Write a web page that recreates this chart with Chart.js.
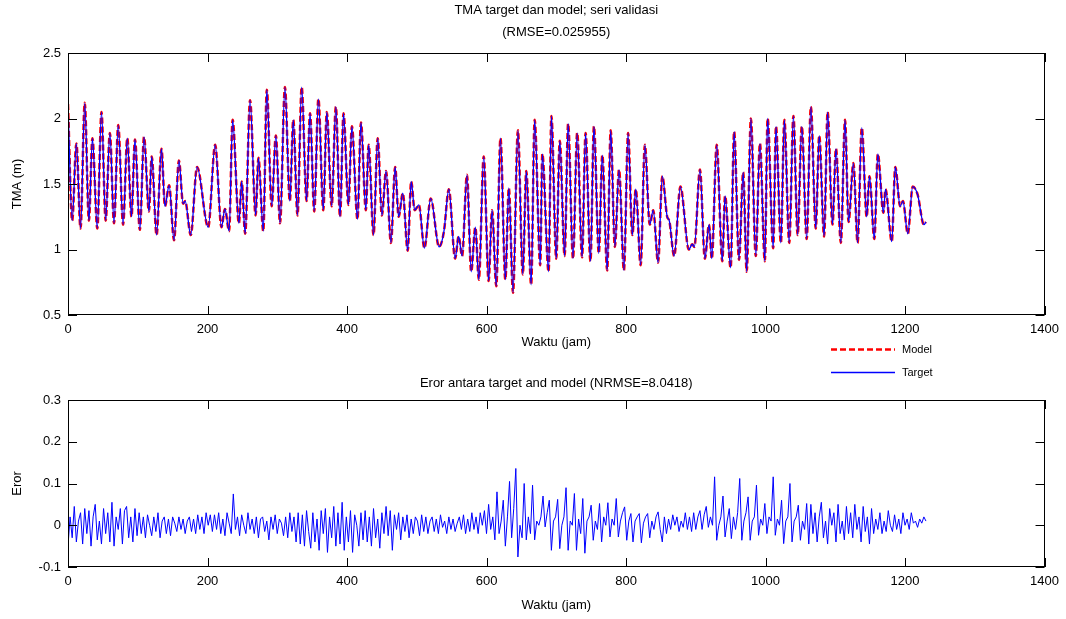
<!DOCTYPE html>
<html>
<head>
<meta charset="utf-8">
<script src="https://cdn.jsdelivr.net/npm/chart.js@4.4.1/dist/chart.umd.min.js"></script>
<style>
  html, body { margin: 0; padding: 0; background: #fff; }
  #wrap { position: relative; width: 1066px; height: 619px; overflow: hidden; }
  canvas { position: absolute; left: 0; }
  #tma-chart { top: 0; }
  #err-chart { top: 370px; }
</style>
</head>
<body>
<div id="wrap">
  <canvas id="tma-chart" width="1066" height="385"></canvas>
  <canvas id="err-chart" width="1066" height="249"></canvas>
</div>
<script>
// water level (TMA), turning points
const tmaHours = [
  0, 6, 12, 18, 24, 30, 35, 42, 48, 54, 60, 66, 72, 79, 85, 91, 96, 103, 109, 116,
  120, 127, 134, 139, 145, 152, 159, 165, 168, 176, 185, 201, 211, 220, 225, 231, 236, 245, 249, 254,
  261, 269, 273, 280, 285, 292, 298, 304, 311, 318, 323, 329, 335, 342, 347, 353, 359, 366, 371, 378,
  384, 390, 395, 402, 407, 415, 420, 427, 431, 438, 444, 450, 456, 463, 469, 474, 480, 487, 492, 497,
  503, 511, 520, 532, 539, 546, 555, 560, 565, 572, 578, 584, 589, 596, 603, 608, 614, 620, 627, 632,
  638, 645, 652, 657, 664, 669, 677, 680, 689, 693, 700, 705, 712, 717, 724, 730, 737, 742, 749, 754,
  761, 766, 773, 778, 784, 790, 797, 803, 809, 814, 821, 827, 834, 839, 846, 852, 859, 862, 869, 878,
  890, 895, 898, 906, 913, 919, 923, 930, 938, 942, 950, 955, 962, 968, 973, 979, 986, 992, 999, 1003,
  1011, 1015, 1022, 1027, 1034, 1040, 1046, 1052, 1059, 1065, 1072, 1077, 1084, 1089, 1096, 1101, 1108, 1114, 1119, 1126,
  1132, 1138, 1145, 1149, 1156, 1161, 1169, 1172, 1181, 1186, 1193, 1197, 1204, 1211, 1218, 1227, 1230
];
const tmaTarget = [
  2.11, 1.22, 1.81, 1.16, 2.12, 1.22, 1.85, 1.16, 2.05, 1.22, 1.89, 1.20, 1.95, 1.19, 1.85, 1.25, 1.84, 1.15, 1.86, 1.29,
  1.71, 1.11, 1.77, 1.33, 1.49, 1.07, 1.68, 1.35, 1.37, 1.11, 1.63, 1.17, 1.80, 1.17, 1.31, 1.14, 1.99, 1.20, 1.52, 1.12,
  2.14, 1.26, 1.70, 1.14, 2.22, 1.33, 1.87, 1.20, 2.24, 1.37, 1.99, 1.26, 2.24, 1.37, 2.04, 1.29, 2.15, 1.30, 2.05, 1.33,
  2.09, 1.25, 2.04, 1.34, 1.94, 1.23, 1.97, 1.30, 1.80, 1.11, 1.85, 1.26, 1.60, 1.05, 1.63, 1.25, 1.43, 0.99, 1.52, 1.30,
  1.34, 1.01, 1.39, 1.02, 1.14, 1.46, 0.93, 1.10, 0.95, 1.57, 0.83, 1.17, 0.77, 1.71, 0.76, 1.30, 0.72, 1.85, 0.77, 1.47,
  0.67, 1.91, 0.81, 1.60, 0.73, 1.99, 0.88, 1.73, 0.83, 2.02, 0.93, 1.83, 0.95, 1.96, 0.93, 1.89, 0.94, 1.89, 0.91, 1.94,
  0.97, 1.72, 0.84, 1.91, 1.02, 1.61, 0.84, 1.89, 1.11, 1.46, 0.88, 1.80, 1.19, 1.30, 0.90, 1.56, 1.25, 1.22, 0.95, 1.48,
  1.00, 1.04, 1.02, 1.61, 0.93, 1.19, 0.93, 1.80, 0.91, 1.41, 0.86, 1.90, 0.92, 1.59, 0.83, 2.00, 0.95, 1.81, 0.91, 2.00,
  1.01, 1.94, 1.05, 1.99, 1.05, 2.02, 1.11, 1.94, 1.08, 2.09, 1.16, 1.87, 1.10, 2.05, 1.19, 1.77, 1.05, 1.99, 1.21, 1.66,
  1.05, 1.93, 1.25, 1.56, 1.08, 1.73, 1.28, 1.46, 1.06, 1.63, 1.33, 1.37, 1.12, 1.48, 1.42, 1.19, 1.21
];
// model output sits on top of the target at this scale
const tmaModel = tmaTarget.slice();

// error series, one reading every 3 hours from hour 0
const errStepHours = 3;
const errValues = [
  -0.05, 0.02, -0.03, 0.045, -0.04, 0.01, 0.03, -0.045, 0.04, -0.02, 0.035, -0.05, 0.02, 0.05, -0.035, 0.01, -0.045,
  0.04, -0.02, 0.03, -0.04, 0.055, -0.05, 0.02, -0.01, 0.04, -0.045, 0.035, 0.045, -0.03, 0.02, -0.04, 0.04, -0.025,
  0.03, -0.02, 0.02, -0.03, 0.025, 0.0, -0.025, 0.02, -0.015, 0.03, -0.03, 0.01, 0.02, -0.02, 0.015, -0.025, 0.02, 0.005,
  -0.015, 0.02, -0.01, 0.015, -0.02, 0.01, 0.02, -0.015, 0.015, -0.02, 0.025, -0.01, 0.02, -0.02, 0.03, 0.0, 0.025, -0.015,
  0.025, -0.01, 0.03, -0.02, 0.015, -0.025, 0.03, 0.005, -0.02, 0.075,
  -0.01, 0.02, -0.025, 0.025, 0.0, -0.02, 0.03, -0.01, 0.015, -0.02, 0.02, -0.03, 0.015, 0.02, -0.015,
  0.01, -0.035, 0.02, -0.01, 0.025, -0.02, 0.015, 0.005, -0.025, 0.02, -0.03, 0.03, -0.015, 0.02, -0.04,
  0.03, -0.045, 0.025, -0.05, 0.035, -0.015, -0.055, 0.03, -0.04, 0.015, -0.06, 0.035, -0.02, 0.04, -0.065, 0.02,
  -0.03, 0.045, -0.05, 0.03, -0.045, 0.055, -0.06, 0.02, -0.04, 0.035, -0.065, 0.025, 0.0, -0.05, 0.03, -0.035,
  0.035, -0.04, 0.02, -0.05, 0.04, -0.03, 0.015, -0.055, 0.03, -0.02, 0.045, -0.025, 0.035, -0.06, 0.025, -0.01,
  0.03, -0.035, 0.02, -0.015, 0.025, -0.03, 0.015, -0.02, 0.02, 0.01, -0.025, 0.025, -0.015, 0.02, -0.02, 0.01,
  0.02, -0.015, 0.015, -0.02, 0.025, -0.005, 0.01, -0.02, 0.02, -0.01, 0.015, -0.015, 0.005, 0.02,
  -0.01, 0.025, -0.02, 0.015, -0.015, 0.03, -0.01, 0.02, -0.02, 0.03, 0.0, 0.035, -0.02,
  0.05, -0.01, 0.02, -0.035, 0.08, -0.02, 0.01, 0.06, -0.05, 0.02, 0.105, -0.03,
  0.04, 0.136, -0.076, 0.0, -0.03, 0.1, -0.035, 0.02, -0.02, 0.096, -0.035, 0.01, 0.0, 0.02, 0.07, -0.004,
  0.03, 0.06, -0.06, 0.01, 0.02, 0.062, -0.056, 0.0, 0.02, 0.09, -0.06, 0.01, 0.0, 0.076, -0.06, 0.015,
  -0.02, 0.064, -0.067, 0.01, 0.02, 0.048, -0.036, 0.01, -0.01, 0.052, -0.04, 0.02, 0.0, 0.054, -0.028, 0.015,
  0.0, 0.064, -0.028, 0.01, 0.03, 0.044, -0.036, 0.01, 0.028, -0.04, 0.01, 0.02, 0.028, -0.042, 0.005, 0.02,
  0.028, -0.03, 0.01, -0.01, 0.02, 0.032, -0.01,
  -0.04, 0.02, -0.02, 0.015, -0.01, 0.025, 0.0, 0.02, -0.015, 0.01, -0.005, 0.03, -0.01,
  0.02, -0.015, 0.03, -0.01, 0.02, 0.035, -0.01, 0.025, 0.045, -0.005, 0.02, 0.0,
  0.116, -0.036, 0.0, 0.02, 0.07, -0.028, 0.01, 0.04, -0.032, 0.02, -0.01, 0.03, 0.112, -0.036, 0.01,
  0.03, 0.068, -0.036, 0.01, 0.02, 0.096, -0.024, 0.015, 0.0, 0.052, -0.02, 0.02, 0.01, 0.116, -0.024,
  0.015, 0.0, 0.06, -0.044, 0.01, 0.02, 0.1, -0.04, 0.01, 0.02, 0.048, -0.036, 0.01, -0.01, 0.052,
  -0.045, 0.05, -0.02, 0.03, -0.04, 0.02, 0.055, -0.03, 0.01, -0.045, 0.04, 0.0, 0.03, -0.04, 0.05, -0.02, 0.01, -0.035, 0.045,
  -0.02, 0.03, -0.03, 0.05, -0.01, 0.02, -0.04, 0.045, -0.015, 0.02, -0.045, 0.04, -0.02, 0.015, -0.01, 0.03, -0.02, 0.01, -0.015,
  0.035, 0.0, -0.015, 0.025, -0.01, 0.015, -0.02, 0.03, 0.0, 0.015, -0.01, 0.03, 0.005, 0.01, -0.005, 0.015, 0.005, 0.02, 0.01
];

const xTickMax = 1400;
const xTickStep = 200;
const FONT = "'Liberation Sans', Arial, sans-serif";

// MATLAB style box with inward ticks on all four sides
const boxTicks = {
  id: 'boxTicks',
  afterDatasetsDraw(chart) {
    const { ctx, chartArea: a, scales: { x, y } } = chart;
    const len = 9;
    ctx.save();
    ctx.strokeStyle = '#000';
    ctx.lineWidth = 1;
    ctx.beginPath();
    x.ticks.forEach(t => {
      const px = Math.round(x.getPixelForValue(t.value)) + 0.5;
      ctx.moveTo(px, a.bottom); ctx.lineTo(px, a.bottom - len);
      ctx.moveTo(px, a.top); ctx.lineTo(px, a.top + len);
    });
    y.ticks.forEach(t => {
      const py = Math.round(y.getPixelForValue(t.value)) + 0.5;
      ctx.moveTo(a.left, py); ctx.lineTo(a.left + len, py);
      ctx.moveTo(a.right, py); ctx.lineTo(a.right - len, py);
    });
    ctx.stroke();
    ctx.strokeRect(Math.round(a.left) + 0.5, Math.round(a.top) + 0.5,
      Math.round(a.right - a.left) - 1, Math.round(a.bottom - a.top) - 1);
    ctx.restore();
  }
};

// centred titles above the plot box
const plotTitle = {
  id: 'plotTitle',
  afterDraw(chart, args, opts) {
    const { ctx, chartArea: a } = chart;
    ctx.save();
    ctx.fillStyle = '#000';
    ctx.font = `13px ${FONT}`;
    ctx.textAlign = 'center';
    ctx.textBaseline = 'middle';
    opts.lines.forEach((line, i) => ctx.fillText(line, (a.left + a.right) / 2, opts.y + i * opts.gap));
    ctx.restore();
  }
};

// legend under the upper plot
const sideLegend = {
  id: 'sideLegend',
  afterDraw(chart, args, opts) {
    if (!opts.show) return;
    const { ctx } = chart;
    ctx.save();
    ctx.font = `11px ${FONT}`;
    ctx.textBaseline = 'middle';
    chart.data.datasets.forEach((ds, i) => {
      const y = opts.y + i * opts.gap + 0.5;
      ctx.strokeStyle = ds.borderColor;
      ctx.lineWidth = ds.borderWidth;
      ctx.setLineDash(ds.borderDash || []);
      ctx.beginPath();
      ctx.moveTo(opts.x, y);
      ctx.lineTo(opts.x + 64, y);
      ctx.stroke();
      ctx.setLineDash([]);
      ctx.fillStyle = '#000';
      ctx.fillText(ds.label, opts.x + 71, y);
    });
    ctx.restore();
  }
};

function axisOpts(cfg) {
  return {
    x: {
      type: 'linear', min: 0, max: xTickMax,
      grid: { display: false, drawTicks: false },
      border: { display: false },
      ticks: { stepSize: xTickStep, padding: 7, color: '#000', font: { family: FONT, size: 13 },
        callback: v => String(v) },
      title: { display: true, text: 'Waktu (jam)', color: '#000', font: { family: FONT, size: 13 },
        padding: { top: 0, bottom: cfg.xTitlePad } },
      afterFit: s => { s.height = cfg.xHeight; }
    },
    y: {
      min: cfg.yMin, max: cfg.yMax,
      grid: { display: false, drawTicks: false },
      border: { display: false },
      ticks: { stepSize: cfg.yStep, padding: 7, color: '#000', font: { family: FONT, size: 13 },
        callback: v => String(+v.toFixed(2)) },
      title: { display: true, text: cfg.yTitle, color: '#000', font: { family: FONT, size: 13 },
        padding: { top: 10, bottom: 0 } },
      afterFit: s => { s.width = 68; }
    }
  };
}

const toPoints = (xs, ys) => ys.map((v, i) => ({ x: xs[i], y: v }));

new Chart(document.getElementById('tma-chart'), {
  type: 'line',
  data: {
    datasets: [
      {
        label: 'Model',
        data: toPoints(tmaHours, tmaModel),
        borderColor: '#ff0000',
        borderWidth: 2.5,
        borderDash: [6, 3],
        cubicInterpolationMode: 'monotone',
        pointRadius: 0,
        order: 2
      },
      {
        label: 'Target',
        data: toPoints(tmaHours, tmaTarget),
        borderColor: '#0000ff',
        borderWidth: 1.3,
        cubicInterpolationMode: 'monotone',
        pointRadius: 0,
        order: 1
      }
    ]
  },
  options: {
    responsive: false,
    animation: false,
    layout: { padding: { top: 53, left: 0, right: 20, bottom: 0 } },
    plugins: {
      legend: { display: false },
      tooltip: { enabled: false },
      plotTitle: { lines: ['TMA target dan model; seri validasi', '(RMSE=0.025955)'], y: 10, gap: 22 },
      sideLegend: { show: true, x: 831, y: 349, gap: 23 }
    },
    scales: axisOpts({ yMin: 0.5, yMax: 2.5, yStep: 0.5, yTitle: 'TMA (m)', xHeight: 70, xTitlePad: 35 })
  },
  plugins: [boxTicks, plotTitle, sideLegend]
});

new Chart(document.getElementById('err-chart'), {
  type: 'line',
  data: {
    datasets: [{
      label: 'Eror',
      data: errValues.map((v, i) => ({ x: i * errStepHours, y: v })),
      borderColor: '#0000ff',
      borderWidth: 1,
      tension: 0,
      pointRadius: 0
    }]
  },
  options: {
    responsive: false,
    animation: false,
    layout: { padding: { top: 30, left: 0, right: 20, bottom: 0 } },
    plugins: {
      legend: { display: false },
      tooltip: { enabled: false },
      plotTitle: { lines: ['Eror antara target and model (NRMSE=8.0418)'], y: 13, gap: 0 },
      sideLegend: { show: false }
    },
    scales: axisOpts({ yMin: -0.1, yMax: 0.3, yStep: 0.1, yTitle: 'Eror', xHeight: 52, xTitlePad: 6 })
  },
  plugins: [boxTicks, plotTitle, sideLegend]
});
</script>
</body>
</html>
